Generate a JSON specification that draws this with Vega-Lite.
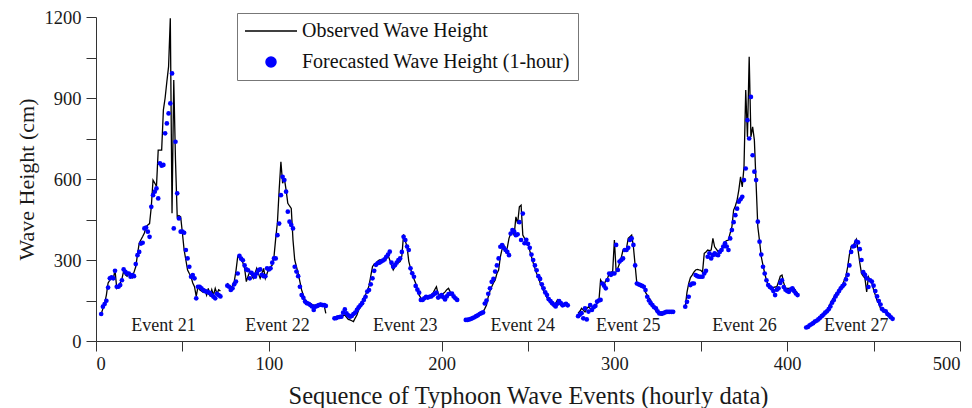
{
"$schema": "https://vega.github.io/schema/vega-lite/v6.json",
"width": 864, "height": 324,
"autosize": {"type": "none"},
"padding": {"left": 96, "top": 17, "right": 12, "bottom": 67},
"background": "white",
"config": {
  "font": "Liberation Serif",
  "view": {"stroke": null},
  "axis": {"grid": false, "domainColor": "#333", "tickColor": "#333", "labelColor": "#1a1a1a", "titleColor": "#1a1a1a", "labelFont": "Liberation Serif", "titleFont": "Liberation Serif", "labelFontSize": 18.5, "titleFontWeight": "normal", "tickSize": 10, "domainWidth": 1, "tickWidth": 1}
},
"datasets": {
"events": [
{"label": "Event 21", "t": 39, "v": 55},
{"label": "Event 22", "t": 105, "v": 55},
{"label": "Event 23", "t": 179, "v": 55},
{"label": "Event 24", "t": 247, "v": 55},
{"label": "Event 25", "t": 308, "v": 55},
{"label": "Event 26", "t": 375.3, "v": 55},
{"label": "Event 27", "t": 440, "v": 55}
],
"waves": [
{"e":21,"t":3,"o":100,"f":100},{"e":21,"t":4,"o":120,"f":127},{"e":21,"t":5,"o":140,"f":137},{"e":21,"t":6,"o":170,"f":149},{"e":21,"t":7,"o":215,"f":198},{"e":21,"t":8,"o":225,"f":232},{"e":21,"t":9,"o":238,"f":236},{"e":21,"t":10,"o":230,"f":232},{"e":21,"t":11,"o":263,"f":260},{"e":21,"t":12,"o":196,"f":201},{"e":21,"t":13,"o":205,"f":201},{"e":21,"t":14,"o":215,"f":207},{"e":21,"t":15,"o":230,"f":225},{"e":21,"t":16,"o":259,"f":265},{"e":21,"t":17,"o":245,"f":256},{"e":21,"t":18,"o":240,"f":250},{"e":21,"t":19,"o":250,"f":250},{"e":21,"t":20,"o":247,"f":238},{"e":21,"t":21,"o":235,"f":244},{"e":21,"t":22,"o":255,"f":240},{"e":21,"t":23,"o":275,"f":285},{"e":21,"t":24,"o":320,"f":318},{"e":21,"t":25,"o":362,"f":330},{"e":21,"t":26,"o":375,"f":361},{"e":21,"t":27,"o":387,"f":364},{"e":21,"t":28,"o":400,"f":417},{"e":21,"t":29,"o":423,"f":420},{"e":21,"t":30,"o":430,"f":405},{"e":21,"t":31,"o":435,"f":386},{"e":21,"t":32,"o":497,"f":497},{"e":21,"t":33,"o":596,"f":540},{"e":21,"t":34,"o":585,"f":553},{"e":21,"t":35,"o":572,"f":565},{"e":21,"t":36,"o":707,"f":528},{"e":21,"t":37,"o":707,"f":658},{"e":21,"t":38,"o":707,"f":649},{"e":21,"t":39,"o":856,"f":652},{"e":21,"t":40,"o":900,"f":769},{"e":21,"t":41,"o":960,"f":806},{"e":21,"t":42,"o":1016,"f":843},{"e":21,"t":43,"o":1195,"f":880},{"e":21,"t":44,"o":473,"f":991},{"e":21,"t":45,"o":967,"f":417},{"e":21,"t":46,"o":670,"f":738},{"e":21,"t":47,"o":460,"f":547},{"e":21,"t":48,"o":465,"f":454},{"e":21,"t":49,"o":460,"f":405},{"e":21,"t":50,"o":400,"f":405},{"e":21,"t":51,"o":337,"f":401},{"e":21,"t":52,"o":300,"f":337},{"e":21,"t":53,"o":263,"f":306},{"e":21,"t":54,"o":250,"f":275},{"e":21,"t":55,"o":238,"f":238},{"e":21,"t":56,"o":215,"f":244},{"e":21,"t":57,"o":201,"f":232},{"e":21,"t":58,"o":165,"f":158},{"e":21,"t":59,"o":200,"f":201},{"e":21,"t":60,"o":190,"f":201},{"e":21,"t":61,"o":185,"f":195},{"e":21,"t":62,"o":180,"f":189},{"e":21,"t":63,"o":190,"f":185},{"e":21,"t":64,"o":170,"f":183},{"e":21,"t":65,"o":195,"f":180},{"e":21,"t":66,"o":165,"f":177},{"e":21,"t":67,"o":190,"f":170},{"e":21,"t":68,"o":170,"f":164},{"e":21,"t":69,"o":195,"f":158},{"e":21,"t":70,"o":175,"f":175},{"e":21,"t":71,"o":190,"f":170},{"e":21,"t":72,"o":185,"f":165},
{"e":22,"t":76,"o":214,"f":205},{"e":22,"t":77,"o":205,"f":201},{"e":22,"t":78,"o":196,"f":189},{"e":22,"t":79,"o":205,"f":195},{"e":22,"t":80,"o":220,"f":210},{"e":22,"t":81,"o":260,"f":220},{"e":22,"t":82,"o":312,"f":250},{"e":22,"t":83,"o":309,"f":315},{"e":22,"t":84,"o":306,"f":305},{"e":22,"t":85,"o":290,"f":299},{"e":22,"t":86,"o":269,"f":280},{"e":22,"t":87,"o":220,"f":265},{"e":22,"t":88,"o":240,"f":262},{"e":22,"t":89,"o":257,"f":232},{"e":22,"t":90,"o":245,"f":252},{"e":22,"t":91,"o":232,"f":245},{"e":22,"t":92,"o":250,"f":238},{"e":22,"t":93,"o":269,"f":250},{"e":22,"t":94,"o":250,"f":262},{"e":22,"t":95,"o":232,"f":265},{"e":22,"t":96,"o":250,"f":245},{"e":22,"t":97,"o":269,"f":240},{"e":22,"t":98,"o":232,"f":240},{"e":22,"t":99,"o":250,"f":269},{"e":22,"t":100,"o":269,"f":265},{"e":22,"t":101,"o":275,"f":269},{"e":22,"t":102,"o":281,"f":290},{"e":22,"t":103,"o":312,"f":306},{"e":22,"t":104,"o":380,"f":306},{"e":22,"t":105,"o":440,"f":392},{"e":22,"t":106,"o":560,"f":435},{"e":22,"t":107,"o":664,"f":540},{"e":22,"t":108,"o":584,"f":608},{"e":22,"t":109,"o":602,"f":596},{"e":22,"t":110,"o":560,"f":553},{"e":22,"t":111,"o":510,"f":479},{"e":22,"t":112,"o":500,"f":442},{"e":22,"t":113,"o":491,"f":430},{"e":22,"t":114,"o":374,"f":417},{"e":22,"t":115,"o":300,"f":275},{"e":22,"t":116,"o":275,"f":257},{"e":22,"t":117,"o":250,"f":240},{"e":22,"t":118,"o":220,"f":201},{"e":22,"t":119,"o":189,"f":170},{"e":22,"t":120,"o":170,"f":160},{"e":22,"t":121,"o":152,"f":146},{"e":22,"t":122,"o":146,"f":140},{"e":22,"t":123,"o":140,"f":138},{"e":22,"t":124,"o":140,"f":133},{"e":22,"t":125,"o":135,"f":128},{"e":22,"t":126,"o":133,"f":115},{"e":22,"t":127,"o":133,"f":127},{"e":22,"t":128,"o":133,"f":130},{"e":22,"t":129,"o":138,"f":133},{"e":22,"t":130,"o":140,"f":135},{"e":22,"t":131,"o":136,"f":133},{"e":22,"t":132,"o":133,"f":133},{"e":22,"t":133,"o":102,"f":130},
{"e":23,"t":138,"o":84,"f":84},{"e":23,"t":139,"o":84,"f":85},{"e":23,"t":140,"o":84,"f":88},{"e":23,"t":141,"o":84,"f":89},{"e":23,"t":142,"o":90,"f":90},{"e":23,"t":143,"o":94,"f":105},{"e":23,"t":144,"o":96,"f":117},{"e":23,"t":145,"o":88,"f":102},{"e":23,"t":146,"o":80,"f":95},{"e":23,"t":147,"o":78,"f":90},{"e":23,"t":148,"o":75,"f":93},{"e":23,"t":149,"o":72,"f":100},{"e":23,"t":150,"o":85,"f":105},{"e":23,"t":151,"o":96,"f":115},{"e":23,"t":152,"o":115,"f":125},{"e":23,"t":153,"o":125,"f":132},{"e":23,"t":154,"o":145,"f":140},{"e":23,"t":155,"o":160,"f":152},{"e":23,"t":156,"o":172,"f":164},{"e":23,"t":157,"o":185,"f":183},{"e":23,"t":158,"o":205,"f":189},{"e":23,"t":159,"o":240,"f":210},{"e":23,"t":160,"o":275,"f":232},{"e":23,"t":161,"o":285,"f":260},{"e":23,"t":162,"o":288,"f":282},{"e":23,"t":163,"o":295,"f":288},{"e":23,"t":164,"o":300,"f":290},{"e":23,"t":165,"o":300,"f":294},{"e":23,"t":166,"o":300,"f":298},{"e":23,"t":167,"o":303,"f":302},{"e":23,"t":168,"o":306,"f":312},{"e":23,"t":169,"o":318,"f":320},{"e":23,"t":170,"o":300,"f":331},{"e":23,"t":171,"o":280,"f":290},{"e":23,"t":172,"o":263,"f":275},{"e":23,"t":173,"o":275,"f":281},{"e":23,"t":174,"o":288,"f":290},{"e":23,"t":175,"o":290,"f":300},{"e":23,"t":176,"o":294,"f":306},{"e":23,"t":177,"o":315,"f":330},{"e":23,"t":178,"o":395,"f":386},{"e":23,"t":179,"o":370,"f":374},{"e":23,"t":180,"o":350,"f":350},{"e":23,"t":181,"o":295,"f":337},{"e":23,"t":182,"o":270,"f":269},{"e":23,"t":183,"o":245,"f":251},{"e":23,"t":184,"o":230,"f":238},{"e":23,"t":185,"o":214,"f":204},{"e":23,"t":186,"o":190,"f":190},{"e":23,"t":187,"o":170,"f":179},{"e":23,"t":188,"o":160,"f":152},{"e":23,"t":189,"o":152,"f":152},{"e":23,"t":190,"o":158,"f":158},{"e":23,"t":191,"o":164,"f":164},{"e":23,"t":192,"o":164,"f":161},{"e":23,"t":193,"o":164,"f":164},{"e":23,"t":194,"o":170,"f":165},{"e":23,"t":195,"o":177,"f":170},{"e":23,"t":196,"o":190,"f":175},{"e":23,"t":197,"o":201,"f":179},{"e":23,"t":198,"o":175,"f":161},{"e":23,"t":199,"o":170,"f":165},{"e":23,"t":200,"o":170,"f":170},{"e":23,"t":201,"o":176,"f":162},{"e":23,"t":202,"o":182,"f":154},{"e":23,"t":203,"o":190,"f":165},{"e":23,"t":204,"o":195,"f":174},{"e":23,"t":205,"o":182,"f":175},{"e":23,"t":206,"o":170,"f":176},{"e":23,"t":207,"o":164,"f":165},{"e":23,"t":208,"o":158,"f":158},{"e":23,"t":209,"o":152,"f":152},
{"e":24,"t":214,"o":78,"f":78},{"e":24,"t":215,"o":79,"f":78},{"e":24,"t":216,"o":80,"f":80},{"e":24,"t":217,"o":84,"f":82},{"e":24,"t":218,"o":87,"f":85},{"e":24,"t":219,"o":90,"f":88},{"e":24,"t":220,"o":94,"f":92},{"e":24,"t":221,"o":98,"f":95},{"e":24,"t":222,"o":102,"f":100},{"e":24,"t":223,"o":105,"f":103},{"e":24,"t":224,"o":108,"f":106},{"e":24,"t":225,"o":120,"f":139},{"e":24,"t":226,"o":133,"f":150},{"e":24,"t":227,"o":164,"f":175},{"e":24,"t":228,"o":185,"f":195},{"e":24,"t":229,"o":201,"f":219},{"e":24,"t":230,"o":215,"f":230},{"e":24,"t":231,"o":226,"f":257},{"e":24,"t":232,"o":250,"f":280},{"e":24,"t":233,"o":263,"f":306},{"e":24,"t":234,"o":312,"f":349},{"e":24,"t":235,"o":340,"f":355},{"e":24,"t":236,"o":355,"f":345},{"e":24,"t":237,"o":331,"f":337},{"e":24,"t":238,"o":345,"f":330},{"e":24,"t":239,"o":380,"f":318},{"e":24,"t":240,"o":398,"f":398},{"e":24,"t":241,"o":410,"f":411},{"e":24,"t":242,"o":392,"f":405},{"e":24,"t":243,"o":460,"f":392},{"e":24,"t":244,"o":435,"f":395},{"e":24,"t":245,"o":497,"f":440},{"e":24,"t":246,"o":503,"f":374},{"e":24,"t":247,"o":392,"f":472},{"e":24,"t":248,"o":380,"f":362},{"e":24,"t":249,"o":370,"f":375},{"e":24,"t":250,"o":362,"f":360},{"e":24,"t":251,"o":335,"f":345},{"e":24,"t":252,"o":312,"f":320},{"e":24,"t":253,"o":290,"f":300},{"e":24,"t":254,"o":269,"f":280},{"e":24,"t":255,"o":250,"f":262},{"e":24,"t":256,"o":238,"f":240},{"e":24,"t":257,"o":215,"f":230},{"e":24,"t":258,"o":201,"f":210},{"e":24,"t":259,"o":185,"f":195},{"e":24,"t":260,"o":176,"f":180},{"e":24,"t":261,"o":160,"f":170},{"e":24,"t":262,"o":152,"f":155},{"e":24,"t":263,"o":140,"f":148},{"e":24,"t":264,"o":133,"f":140},{"e":24,"t":265,"o":127,"f":135},{"e":24,"t":266,"o":140,"f":128},{"e":24,"t":267,"o":152,"f":138},{"e":24,"t":268,"o":140,"f":148},{"e":24,"t":269,"o":133,"f":140},{"e":24,"t":270,"o":136,"f":132},{"e":24,"t":271,"o":139,"f":135},{"e":24,"t":272,"o":133,"f":138},{"e":24,"t":273,"o":127,"f":132},
{"e":25,"t":279,"o":103,"f":92},{"e":25,"t":280,"o":110,"f":98},{"e":25,"t":281,"o":121,"f":103},{"e":25,"t":282,"o":115,"f":84},{"e":25,"t":283,"o":108,"f":121},{"e":25,"t":284,"o":120,"f":80},{"e":25,"t":285,"o":127,"f":109},{"e":25,"t":286,"o":120,"f":133},{"e":25,"t":287,"o":115,"f":115},{"e":25,"t":288,"o":122,"f":125},{"e":25,"t":289,"o":127,"f":130},{"e":25,"t":290,"o":140,"f":146},{"e":25,"t":291,"o":146,"f":150},{"e":25,"t":292,"o":226,"f":152},{"e":25,"t":293,"o":215,"f":213},{"e":25,"t":294,"o":207,"f":205},{"e":25,"t":295,"o":225,"f":195},{"e":25,"t":296,"o":232,"f":226},{"e":25,"t":297,"o":250,"f":250},{"e":25,"t":298,"o":255,"f":245},{"e":25,"t":299,"o":257,"f":250},{"e":25,"t":300,"o":374,"f":250},{"e":25,"t":301,"o":257,"f":356},{"e":25,"t":302,"o":270,"f":263},{"e":25,"t":303,"o":288,"f":294},{"e":25,"t":304,"o":310,"f":300},{"e":25,"t":305,"o":337,"f":306},{"e":25,"t":306,"o":340,"f":337},{"e":25,"t":307,"o":343,"f":337},{"e":25,"t":308,"o":380,"f":345},{"e":25,"t":309,"o":386,"f":374},{"e":25,"t":310,"o":392,"f":380},{"e":25,"t":311,"o":349,"f":356},{"e":25,"t":312,"o":280,"f":280},{"e":25,"t":313,"o":213,"f":213},{"e":25,"t":314,"o":210,"f":210},{"e":25,"t":315,"o":207,"f":207},{"e":25,"t":316,"o":204,"f":204},{"e":25,"t":317,"o":201,"f":201},{"e":25,"t":318,"o":180,"f":189},{"e":25,"t":319,"o":170,"f":164},{"e":25,"t":320,"o":160,"f":150},{"e":25,"t":321,"o":152,"f":140},{"e":25,"t":322,"o":130,"f":133},{"e":25,"t":323,"o":121,"f":125},{"e":25,"t":324,"o":112,"f":121},{"e":25,"t":325,"o":108,"f":110},{"e":25,"t":326,"o":100,"f":102},{"e":25,"t":327,"o":96,"f":102},{"e":25,"t":328,"o":96,"f":102},{"e":25,"t":329,"o":null,"f":105},{"e":25,"t":330,"o":null,"f":108},{"e":25,"t":331,"o":null,"f":108},{"e":25,"t":332,"o":null,"f":108},{"e":25,"t":333,"o":null,"f":108},{"e":25,"t":334,"o":null,"f":108},
{"e":26,"t":341,"o":127,"f":127},{"e":26,"t":342,"o":180,"f":145},{"e":26,"t":343,"o":213,"f":164},{"e":26,"t":344,"o":235,"f":207},{"e":26,"t":345,"o":244,"f":213},{"e":26,"t":346,"o":255,"f":213},{"e":26,"t":347,"o":263,"f":244},{"e":26,"t":348,"o":265,"f":240},{"e":26,"t":349,"o":263,"f":238},{"e":26,"t":350,"o":262,"f":238},{"e":26,"t":351,"o":255,"f":238},{"e":26,"t":352,"o":325,"f":250},{"e":26,"t":353,"o":330,"f":260},{"e":26,"t":354,"o":337,"f":312},{"e":26,"t":355,"o":335,"f":325},{"e":26,"t":356,"o":337,"f":306},{"e":26,"t":357,"o":380,"f":318},{"e":26,"t":358,"o":349,"f":325},{"e":26,"t":359,"o":340,"f":320},{"e":26,"t":360,"o":331,"f":318},{"e":26,"t":361,"o":335,"f":330},{"e":26,"t":362,"o":340,"f":337},{"e":26,"t":363,"o":355,"f":350},{"e":26,"t":364,"o":368,"f":362},{"e":26,"t":365,"o":372,"f":350},{"e":26,"t":366,"o":374,"f":337},{"e":26,"t":367,"o":400,"f":380},{"e":26,"t":368,"o":423,"f":411},{"e":26,"t":369,"o":485,"f":440},{"e":26,"t":370,"o":500,"f":466},{"e":26,"t":371,"o":522,"f":490},{"e":26,"t":372,"o":559,"f":516},{"e":26,"t":373,"o":608,"f":525},{"e":26,"t":374,"o":571,"f":534},{"e":26,"t":375,"o":645,"f":596},{"e":26,"t":376,"o":930,"f":639},{"e":26,"t":377,"o":756,"f":818},{"e":26,"t":378,"o":1053,"f":750},{"e":26,"t":379,"o":756,"f":904},{"e":26,"t":380,"o":793,"f":688},{"e":26,"t":381,"o":744,"f":627},{"e":26,"t":382,"o":583,"f":596},{"e":26,"t":383,"o":423,"f":442},{"e":26,"t":384,"o":370,"f":368},{"e":26,"t":385,"o":312,"f":320},{"e":26,"t":386,"o":280,"f":275},{"e":26,"t":387,"o":250,"f":250},{"e":26,"t":388,"o":225,"f":225},{"e":26,"t":389,"o":207,"f":207},{"e":26,"t":390,"o":200,"f":200},{"e":26,"t":391,"o":195,"f":195},{"e":26,"t":392,"o":198,"f":185},{"e":26,"t":393,"o":200,"f":170},{"e":26,"t":394,"o":201,"f":190},{"e":26,"t":395,"o":220,"f":195},{"e":26,"t":396,"o":240,"f":215},{"e":26,"t":397,"o":244,"f":225},{"e":26,"t":398,"o":215,"f":200},{"e":26,"t":399,"o":195,"f":190},{"e":26,"t":400,"o":195,"f":185},{"e":26,"t":401,"o":195,"f":182},{"e":26,"t":402,"o":195,"f":190},{"e":26,"t":403,"o":195,"f":195},{"e":26,"t":404,"o":195,"f":185},{"e":26,"t":405,"o":185,"f":176},{"e":26,"t":406,"o":176,"f":170},
{"e":27,"t":411,"o":51,"f":50},{"e":27,"t":412,"o":55,"f":52},{"e":27,"t":413,"o":60,"f":58},{"e":27,"t":414,"o":65,"f":62},{"e":27,"t":415,"o":70,"f":66},{"e":27,"t":416,"o":73,"f":72},{"e":27,"t":417,"o":77,"f":75},{"e":27,"t":418,"o":83,"f":80},{"e":27,"t":419,"o":90,"f":86},{"e":27,"t":420,"o":96,"f":92},{"e":27,"t":421,"o":102,"f":98},{"e":27,"t":422,"o":108,"f":105},{"e":27,"t":423,"o":114,"f":110},{"e":27,"t":424,"o":126,"f":118},{"e":27,"t":425,"o":140,"f":128},{"e":27,"t":426,"o":151,"f":142},{"e":27,"t":427,"o":162,"f":152},{"e":27,"t":428,"o":175,"f":165},{"e":27,"t":429,"o":182,"f":175},{"e":27,"t":430,"o":190,"f":185},{"e":27,"t":431,"o":200,"f":195},{"e":27,"t":432,"o":207,"f":203},{"e":27,"t":433,"o":225,"f":210},{"e":27,"t":434,"o":240,"f":228},{"e":27,"t":435,"o":275,"f":245},{"e":27,"t":436,"o":320,"f":280},{"e":27,"t":437,"o":349,"f":330},{"e":27,"t":438,"o":349,"f":350},{"e":27,"t":439,"o":365,"f":352},{"e":27,"t":440,"o":377,"f":368},{"e":27,"t":441,"o":337,"f":365},{"e":27,"t":442,"o":290,"f":340},{"e":27,"t":443,"o":250,"f":300},{"e":27,"t":444,"o":240,"f":255},{"e":27,"t":445,"o":232,"f":245},{"e":27,"t":446,"o":182,"f":232},{"e":27,"t":447,"o":238,"f":200},{"e":27,"t":448,"o":225,"f":225},{"e":27,"t":449,"o":213,"f":220},{"e":27,"t":450,"o":190,"f":205},{"e":27,"t":451,"o":170,"f":185},{"e":27,"t":452,"o":150,"f":165},{"e":27,"t":453,"o":140,"f":148},{"e":27,"t":454,"o":120,"f":135},{"e":27,"t":455,"o":114,"f":118},{"e":27,"t":456,"o":114,"f":112},{"e":27,"t":457,"o":105,"f":110},{"e":27,"t":458,"o":96,"f":100},{"e":27,"t":459,"o":93,"f":95},{"e":27,"t":460,"o":90,"f":88},{"e":27,"t":461,"o":null,"f":82}
]
},
"layer": [
  {
    "data": {"name": "waves"},
    "mark": {"type": "line", "strokeWidth": 1.3},
    "encoding": {
      "x": {"field": "t", "type": "quantitative", "scale": {"domain": [0, 500], "nice": false},
        "axis": {"title": "Sequence of Typhoon Wave Events  (hourly data)", "titleFontSize": 24.5, "titlePadding": 12, "labelPadding": 3, "format": "d",
          "labelFont": "Liberation Serif", "titleFont": "Liberation Serif",
          "values": [0,50,100,150,200,250,300,350,400,450,500],
          "labelExpr": "datum.value % 100 === 0 ? datum.label : ''",
          "encode": {"ticks": {"update": {"y2": {"signal": "datum.value % 100 === 0 ? 11 : 6"}}}}}},
      "y": {"field": "o", "type": "quantitative", "scale": {"domain": [0, 1200], "nice": false},
        "axis": {"title": "Wave Height (cm)", "titleFontSize": 22, "titlePadding": 6, "labelPadding": 5, "format": "d",
          "labelFont": "Liberation Serif", "titleFont": "Liberation Serif",
          "values": [0,150,300,450,600,750,900,1050,1200],
          "labelExpr": "datum.value % 300 === 0 ? datum.label : ''",
          "encode": {"ticks": {"update": {"x2": {"signal": "datum.value % 300 === 0 ? -10 : -6"}}}}}},
      "detail": {"field": "e"},
      "color": {"datum": "Observed Wave Height", "type": "nominal",
        "scale": {"domain": ["Observed Wave Height", "Forecasted Wave Height (1-hour)"], "range": ["#000000", "#0000ff"]},
        "legend": {"title": null, "orient": "none", "legendX": 141, "legendY": -4,
          "labelFontSize": 20, "labelFont": "Liberation Serif", "labelColor": "#111", "labelLimit": 0,
          "labelOffset": 21, "symbolOffset": 16, "symbolSize": 100, "symbolStrokeWidth": 1.5,
          "padding": 8, "rowPadding": 11,
          "encode": {
            "legend": {"update": {"stroke": {"value": "#777777"}, "strokeWidth": {"value": 1}, "fill": {"value": "#ffffff"}}},
            "symbols": {"update": {
            "shape": {"signal": "datum.value === 'Observed Wave Height' ? 'M-5.2,0L5.2,0' : 'circle'"},
            "size": {"value": 100},
            "strokeWidth": {"value": 1.5},
            "fill": {"signal": "datum.value === 'Observed Wave Height' ? 'transparent' : '#0000ff'"},
            "stroke": {"signal": "datum.value === 'Observed Wave Height' ? '#000000' : 'transparent'"},
            "opacity": {"value": 1}, "fillOpacity": {"value": 1}, "strokeOpacity": {"value": 1}}}}}}
    }
  },
  {
    "data": {"name": "waves"},
    "mark": {"type": "point", "filled": true, "size": 22, "opacity": 1},
    "encoding": {
      "x": {"field": "t", "type": "quantitative"},
      "y": {"field": "f", "type": "quantitative"},
      "color": {"datum": "Forecasted Wave Height (1-hour)", "type": "nominal"}
    }
  },
  {
    "data": {"name": "events"},
    "mark": {"type": "text", "fontSize": 18, "font": "Liberation Serif", "color": "#1a1a1a", "baseline": "middle", "align": "center"},
    "encoding": {
      "x": {"field": "t", "type": "quantitative"},
      "y": {"field": "v", "type": "quantitative"},
      "text": {"field": "label"}
    }
  }
]
}
